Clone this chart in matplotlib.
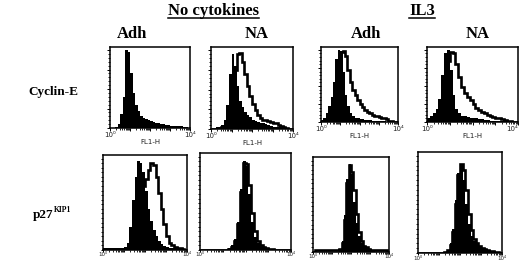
import matplotlib
matplotlib.use('Agg')
import matplotlib.pyplot as plt
from matplotlib.lines import Line2D
import numpy as np

W, H = 520, 262

# histogram bins over the FL1-H axis, in decades (10^0 .. 10^4)
edges = np.linspace(0, 4, 33)

# filled = control histogram, open = stained histogram (relative counts)
cyc_none_adh_fill = [0, 0, 1, 5, 18, 40, 100, 98, 70, 45, 30, 22, 16, 13, 11, 10,
                     9, 8, 7, 6, 5, 5, 4, 4, 3, 3, 2, 2, 2, 1, 1, 0]
cyc_none_na_fill = [0, 0, 2, 3, 5, 12, 30, 70, 95, 80, 55, 35, 28, 22, 18, 15,
                    12, 10, 9, 8, 7, 6, 5, 4, 3, 3, 2, 2, 1, 1, 0, 0]
cyc_none_na_open = [0, 0, 0, 1, 2, 4, 8, 20, 45, 75, 95, 97, 85, 70, 55, 42,
                    32, 24, 18, 14, 12, 11, 10, 9, 8, 7, 5, 4, 2, 1, 0, 0]
cyc_il3_adh_fill = [3, 6, 12, 22, 35, 55, 88, 100, 98, 70, 38, 22, 12, 8, 6, 5,
                    4, 4, 3, 3, 3, 2, 2, 2, 1, 1, 1, 0, 0, 0, 0, 0]
cyc_il3_adh_open = [0, 1, 3, 6, 12, 25, 50, 80, 97, 98, 92, 72, 55, 44, 38, 30,
                    25, 21, 17, 14, 12, 10, 9, 8, 7, 6, 5, 4, 2, 1, 0, 0]
cyc_il3_na_fill = [5, 9, 13, 18, 32, 65, 95, 100, 72, 38, 18, 12, 9, 8, 7, 6,
                   5, 5, 4, 4, 3, 3, 2, 2, 2, 1, 1, 1, 0, 0, 0, 0]
cyc_il3_na_open = [0, 1, 3, 6, 10, 20, 45, 85, 97, 96, 80, 62, 48, 40, 35, 30,
                   25, 20, 17, 14, 12, 10, 9, 7, 6, 5, 4, 3, 2, 1, 0, 0]

p27_none_adh_fill = [2, 2, 2, 2, 2, 2, 2, 2, 3, 8, 25, 55, 80, 97, 95, 85,
                     65, 45, 32, 22, 15, 10, 7, 4, 3, 2, 2, 2, 2, 1, 1, 1]
p27_none_adh_open = [0, 0, 0, 0, 0, 0, 0, 0, 0, 1, 3, 8, 15, 28, 45, 70,
                     78, 88, 95, 93, 80, 62, 45, 28, 15, 8, 5, 3, 2, 2, 1, 0]
p27_none_na_fill = [0, 0, 0, 0, 0, 0, 0, 0, 0, 0, 2, 5, 12, 30, 65, 95,
                    90, 60, 30, 14, 7, 4, 3, 2, 1, 1, 0, 0, 0, 0, 0, 0]
p27_none_na_open = [0, 0, 0, 0, 0, 0, 0, 0, 0, 0, 1, 3, 10, 28, 62, 93,
                    92, 70, 40, 20, 10, 5, 3, 2, 1, 1, 0, 0, 0, 0, 0, 0]
p27_il3_adh_fill = [0, 0, 0, 0, 0, 0, 0, 0, 0, 0, 0, 3, 12, 40, 80, 96,
                    85, 55, 32, 18, 10, 6, 4, 3, 2, 1, 0, 0, 0, 0, 0, 0]
p27_il3_adh_open = [0, 2, 2, 2, 2, 2, 2, 2, 2, 2, 2, 3, 10, 35, 75, 95,
                    88, 68, 42, 22, 12, 7, 5, 3, 2, 2, 2, 2, 2, 2, 2, 0]
p27_il3_na_fill = [0, 0, 0, 0, 0, 0, 0, 0, 0, 0, 1, 3, 10, 25, 55, 82,
                   92, 75, 50, 30, 18, 12, 9, 6, 5, 4, 3, 2, 2, 1, 1, 0]
p27_il3_na_open = [0, 0, 0, 0, 0, 0, 0, 0, 0, 0, 1, 3, 8, 22, 50, 80,
                   92, 85, 65, 40, 24, 14, 10, 7, 5, 4, 3, 2, 2, 1, 1, 0]

col_groups = ['No cytokines', 'IL3']
col_labels = ['Adh', 'NA', 'Adh', 'NA']
row_labels = ['Cyclin-E', 'p27']
x_ticklabels = ['10⁰', '', '', '', '10⁴']

# panel boxes in pixels (x0, y0, x1, y1)
panels = [
    ((110, 47, 190, 128), cyc_none_adh_fill, None),
    ((211, 47, 293, 129), cyc_none_na_fill, cyc_none_na_open),
    ((321, 47, 398, 122), cyc_il3_adh_fill, cyc_il3_adh_open),
    ((427, 47, 518, 122), cyc_il3_na_fill, cyc_il3_na_open),
    ((103, 155, 187, 250), p27_none_adh_fill, p27_none_adh_open),
    ((200, 153, 291, 250), p27_none_na_fill, p27_none_na_open),
    ((313, 157, 389, 252), p27_il3_adh_fill, p27_il3_adh_open),
    ((418, 152, 502, 253), p27_il3_na_fill, p27_il3_na_open),
]

serif = ['Liberation Serif', 'DejaVu Serif']
fig = plt.figure(figsize=(W / 100, H / 100), dpi=100)


def px(x, y):
    return x / W, 1 - y / H


for i, (b, fill, open_) in enumerate(panels):
    x0, y0, x1, y1 = b
    ax = fig.add_axes([x0 / W, 1 - y1 / H, (x1 - x0) / W, (y1 - y0) / H])
    ax.stairs(fill, edges, fill=True, color='black', lw=0)
    if open_ is not None:
        ax.stairs(open_, edges, color='black', lw=1.9)
    ax.set_xlim(0, 4)
    ax.set_ylim(0, 104)
    for s in ax.spines.values():
        s.set_linewidth(1.1)
    ax.set_yticks(np.arange(0, 101, 25))
    ax.set_yticks(np.arange(0, 101, 5), minor=True)
    ax.set_yticklabels([])
    minor_x = [d + np.log10(k) for d in range(4) for k in range(2, 10)]
    ax.set_xticks([0, 1, 2, 3, 4])
    ax.set_xticks(minor_x, minor=True)
    fs = 5 if i < 4 else 4
    labs = ax.set_xticklabels(x_ticklabels, fontsize=fs, color='#222')
    if i == 3:
        labs[-1].set_horizontalalignment('right')
    tl = 2.5 if i < 4 else 1.6
    ax.tick_params(axis='both', which='major', length=tl, width=0.7, pad=0.2)
    ax.tick_params(axis='both', which='minor', length=1.5, width=0.6)
    if i < 4:
        ax.set_xlabel('FL1-H', fontsize=5, labelpad=1, color='#222')

fig.canvas.draw()
r = fig.canvas.get_renderer()

# group headers with underline
for label, cx in zip(col_groups, [213, 422]):
    t = fig.text(*px(cx, 15), label, ha='center', va='baseline', fontsize=12,
                 fontweight='bold', family=serif)
    bb = t.get_window_extent(r)
    fig.add_artist(Line2D([bb.x0 / W, bb.x1 / W], [1 - 18 / H, 1 - 18 / H],
                          color='black', lw=1.1))

for label, cx in zip(col_labels, [132, 257, 366, 478]):
    fig.text(*px(cx, 38), label, ha='center', va='baseline', fontsize=12,
             fontweight='bold', family=serif)

fig.text(*px(28, 95), row_labels[0], ha='left', va='baseline', fontsize=9.5,
         fontweight='bold', family=serif)
t = fig.text(*px(33, 218), row_labels[1], ha='left', va='baseline', fontsize=9.5,
             fontweight='bold', family=serif)
bb = t.get_window_extent(r)
fig.text(bb.x1 / W, 1 - 212 / H, 'KIP1', ha='left', va='baseline', fontsize=5.5,
         fontweight='bold', family=serif)

fig.savefig('out.png', dpi=100)
